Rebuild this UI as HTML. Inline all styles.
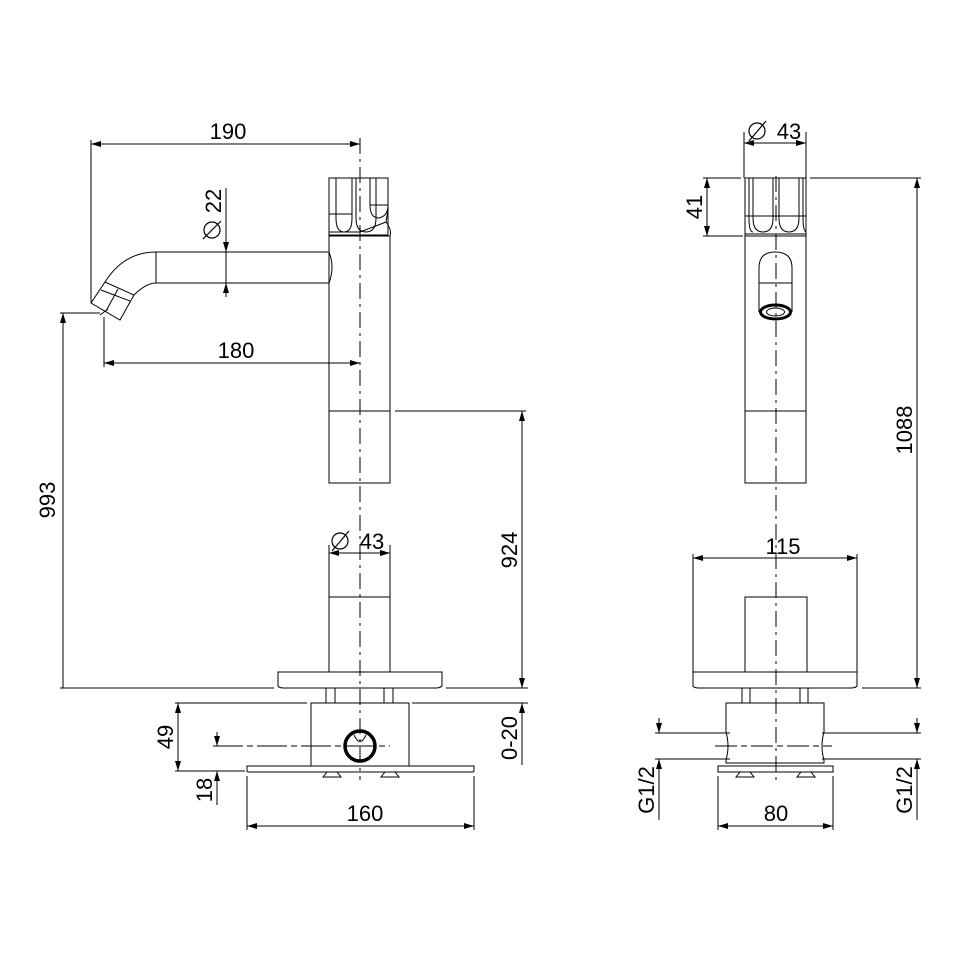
<!DOCTYPE html>
<html><head><meta charset="utf-8"><style>
html,body{margin:0;padding:0;background:#fff}
svg{display:block}
text{font-family:"Liberation Sans",Arial,sans-serif;font-size:22px;fill:#000}
</style></head><body>
<svg width="961" height="961" viewBox="0 0 961 961" xmlns="http://www.w3.org/2000/svg">
<defs>
<marker id="a" viewBox="0 0 10 6" refX="10" refY="3" markerWidth="10" markerHeight="6" orient="auto-start-reverse" markerUnits="userSpaceOnUse"><path d="M0,0 L10,3 L0,6 z" fill="#000"/></marker>
</defs>
<g stroke="#000" stroke-width="1" fill="none">
<line x1="360" y1="138" x2="360" y2="780" stroke-dasharray="16,5,3,5"/>
<rect x="329" y="178" width="59" height="57"/>
<path d="M336,178 V218 Q336,232 344,232 Q352,232 352,218 V178"/>
<path d="M356,178 V218 Q356,232 366,232 Q376,232 376,218 V178"/>
<path d="M370,178 V205 Q370,218 379,218 Q388,216 388,205"/>
<line x1="329" y1="214" x2="352" y2="214"/>
<line x1="370" y1="205" x2="388" y2="205"/>
<path d="M329,232 H360 L386,222 L388,210"/>
<path d="M386,222 Q392,230 390,236"/>
<rect x="329" y="236" width="61" height="247"/>
<line x1="329" y1="411" x2="390" y2="411"/>
<path d="M329,252 H156 Q124,252 105,282"/>
<path d="M329,283 H156 Q146,283 134,295"/>
<line x1="156" y1="252" x2="156" y2="283"/>
<path d="M329,252 Q335,267 329,283"/>
<path d="M105,282 L91,303 L120,320 L134,295 Z"/>
<line x1="118" y1="289" x2="106" y2="311"/>
<line x1="101" y1="290" x2="130" y2="301"/>
<line x1="91" y1="144" x2="360" y2="144" marker-start="url(#a)" marker-end="url(#a)"/>
<line x1="91" y1="140" x2="91" y2="302"/>
<line x1="226" y1="188" x2="226" y2="252" marker-end="url(#a)"/>
<line x1="226" y1="283" x2="226" y2="297" marker-start="url(#a)"/>
<line x1="226" y1="252" x2="226" y2="283"/>
<line x1="104" y1="363" x2="360" y2="363" marker-start="url(#a)" marker-end="url(#a)"/>
<line x1="104" y1="317" x2="104" y2="367"/>
<line x1="100" y1="315" x2="108" y2="309"/>
<line x1="63" y1="313" x2="63" y2="688" marker-start="url(#a)"/>
<line x1="60" y1="313" x2="100" y2="313"/>
<line x1="395" y1="411" x2="526" y2="411"/>
<line x1="329" y1="553" x2="329" y2="672"/>
<line x1="390" y1="553" x2="390" y2="672"/>
<line x1="329" y1="597" x2="390" y2="597"/>
<line x1="329" y1="553" x2="390" y2="553" marker-start="url(#a)" marker-end="url(#a)"/>
<line x1="329" y1="545" x2="329" y2="553"/>
<line x1="390" y1="545" x2="390" y2="553"/>
<path d="M278,672 H442 V686 Q440,688 436,688 H284 Q279,688 278,686 Z"/>
<line x1="60" y1="688" x2="274" y2="688"/>
<line x1="446" y1="688" x2="528" y2="688"/>
<rect x="326" y="688" width="9" height="15"/><rect x="384" y="688" width="9" height="15"/>
<rect x="311" y="703" width="98" height="63"/>
<line x1="175" y1="703" x2="307" y2="703"/>
<line x1="412" y1="703" x2="528" y2="703"/>
<circle cx="360" cy="746" r="15" stroke-width="3.5"/>
<path d="M354,735 Q360,748 366,735" />
<line x1="213" y1="746" x2="390" y2="746" stroke-dasharray="30,4,6,4"/>
<path d="M247,766 H474 V771 Q474,772 472,772 H249 Q247,772 247,771 Z"/>
<path d="M323,777 L327,772 H337 L341,777 Z"/><path d="M381,777 L385,772 H395 L399,777 Z"/>
<line x1="178" y1="703" x2="178" y2="771" marker-start="url(#a)" marker-end="url(#a)"/>
<line x1="175" y1="771" x2="245" y2="771"/>
<line x1="217" y1="732" x2="217" y2="746" marker-end="url(#a)"/>
<line x1="217" y1="771" x2="217" y2="805" marker-start="url(#a)"/>
<line x1="247" y1="826" x2="474" y2="826" marker-start="url(#a)" marker-end="url(#a)"/>
<line x1="247" y1="776" x2="247" y2="830"/>
<line x1="474" y1="776" x2="474" y2="830"/>
<line x1="522" y1="411" x2="522" y2="688" marker-start="url(#a)" marker-end="url(#a)"/>
<line x1="522" y1="703" x2="522" y2="765" marker-start="url(#a)"/>

<line x1="776" y1="176" x2="776" y2="780" stroke-dasharray="16,5,3,5"/>
<rect x="745" y="178" width="61" height="58"/>
<path d="M749,178 V218 Q749,232 753,232"/>
<path d="M753,178 V218 Q753,232 763,232 Q773,232 773,218 V178"/>
<path d="M779,178 V218 Q779,232 789,232 Q799,232 799,218 V178"/>
<path d="M803,178 V218 Q803,230 806,232"/>
<line x1="745" y1="216" x2="806" y2="216"/>
<line x1="745" y1="234" x2="806" y2="234"/>
<rect x="745" y="236" width="61" height="247"/>
<line x1="745" y1="411" x2="806" y2="411"/>
<path d="M759,312 V268 Q759,252 775,252 Q792,252 792,268 V312"/>
<line x1="759" y1="283" x2="792" y2="283"/>
<ellipse cx="775.5" cy="312" rx="15" ry="7" stroke-width="3"/>
<ellipse cx="775.5" cy="312" rx="9" ry="4"/>
<line x1="744" y1="143" x2="806" y2="143" marker-start="url(#a)" marker-end="url(#a)"/>
<line x1="744" y1="132" x2="744" y2="178"/>
<line x1="806" y1="132" x2="806" y2="178"/>
<line x1="707" y1="178" x2="707" y2="236" marker-start="url(#a)" marker-end="url(#a)"/>
<line x1="703" y1="178" x2="741" y2="178"/>
<line x1="703" y1="236" x2="743" y2="236"/>
<line x1="917" y1="178" x2="917" y2="688" marker-start="url(#a)" marker-end="url(#a)"/>
<line x1="810" y1="178" x2="921" y2="178"/>
<line x1="862" y1="688" x2="921" y2="688"/>
<line x1="693" y1="558" x2="857" y2="558" marker-start="url(#a)" marker-end="url(#a)"/>
<line x1="693" y1="554" x2="693" y2="672"/>
<line x1="857" y1="554" x2="857" y2="672"/>
<path d="M745,672 V597 H807 V672"/>
<path d="M693,672 H857 V686 Q855,688 851,688 H699 Q694,688 693,686 Z"/>
<rect x="742" y="688" width="8" height="15"/><rect x="800" y="688" width="8" height="15"/>
<path d="M726,703 H824 V732 Q820,746 824,760 V763 H726 V760 Q730,746 726,732 Z"/>
<rect x="718" y="766" width="115" height="6"/>
<path d="M736,777 L740,772 H750 L754,777 Z"/><path d="M797,777 L801,772 H811 L815,777 Z"/>
<line x1="715" y1="746" x2="832" y2="746" stroke-dasharray="22,4,6,4"/>
<line x1="655" y1="733" x2="730" y2="733"/>
<line x1="655" y1="759" x2="730" y2="759"/>
<line x1="659" y1="718" x2="659" y2="733" marker-end="url(#a)"/>
<line x1="659" y1="759" x2="659" y2="820" marker-start="url(#a)"/>
<line x1="822" y1="733" x2="921" y2="733"/>
<line x1="822" y1="759" x2="921" y2="759"/>
<line x1="917" y1="718" x2="917" y2="733" marker-end="url(#a)"/>
<line x1="917" y1="759" x2="917" y2="820" marker-start="url(#a)"/>
<line x1="718" y1="826" x2="833" y2="826" marker-start="url(#a)" marker-end="url(#a)"/>
<line x1="718" y1="776" x2="718" y2="830"/>
<line x1="833" y1="776" x2="833" y2="830"/>
</g>
<g stroke="#000" stroke-width="1.2" fill="none">
<circle cx="212" cy="230" r="8"/><line x1="203" y1="239" x2="221" y2="221"/>
<circle cx="340" cy="541" r="8"/><line x1="332" y1="551" x2="349" y2="531"/>
<circle cx="757" cy="131" r="8"/><line x1="749" y1="141" x2="766" y2="121"/>
</g>
<text x="228" y="139" text-anchor="middle">190</text>
<text x="236" y="358" text-anchor="middle">180</text>
<text x="372" y="549" text-anchor="middle">43</text>
<text x="365" y="821" text-anchor="middle">160</text>
<text x="789" y="139" text-anchor="middle">43</text>
<text x="783" y="554" text-anchor="middle">115</text>
<text x="776" y="821" text-anchor="middle">80</text>
<text transform="translate(221,201) rotate(-90)" text-anchor="middle">22</text>
<text transform="translate(55,500) rotate(-90)" text-anchor="middle">993</text>
<text transform="translate(517,550) rotate(-90)" text-anchor="middle">924</text>
<text transform="translate(517,738) rotate(-90)" text-anchor="middle">0-20</text>
<text transform="translate(173,737) rotate(-90)" text-anchor="middle">49</text>
<text transform="translate(212,790) rotate(-90)" text-anchor="middle">18</text>
<text transform="translate(702,207) rotate(-90)" text-anchor="middle">41</text>
<text transform="translate(912,430) rotate(-90)" text-anchor="middle">1088</text>
<text transform="translate(654,790) rotate(-90)" text-anchor="middle">G1/2</text>
<text transform="translate(912,790) rotate(-90)" text-anchor="middle">G1/2</text>
</svg>
</body></html>
